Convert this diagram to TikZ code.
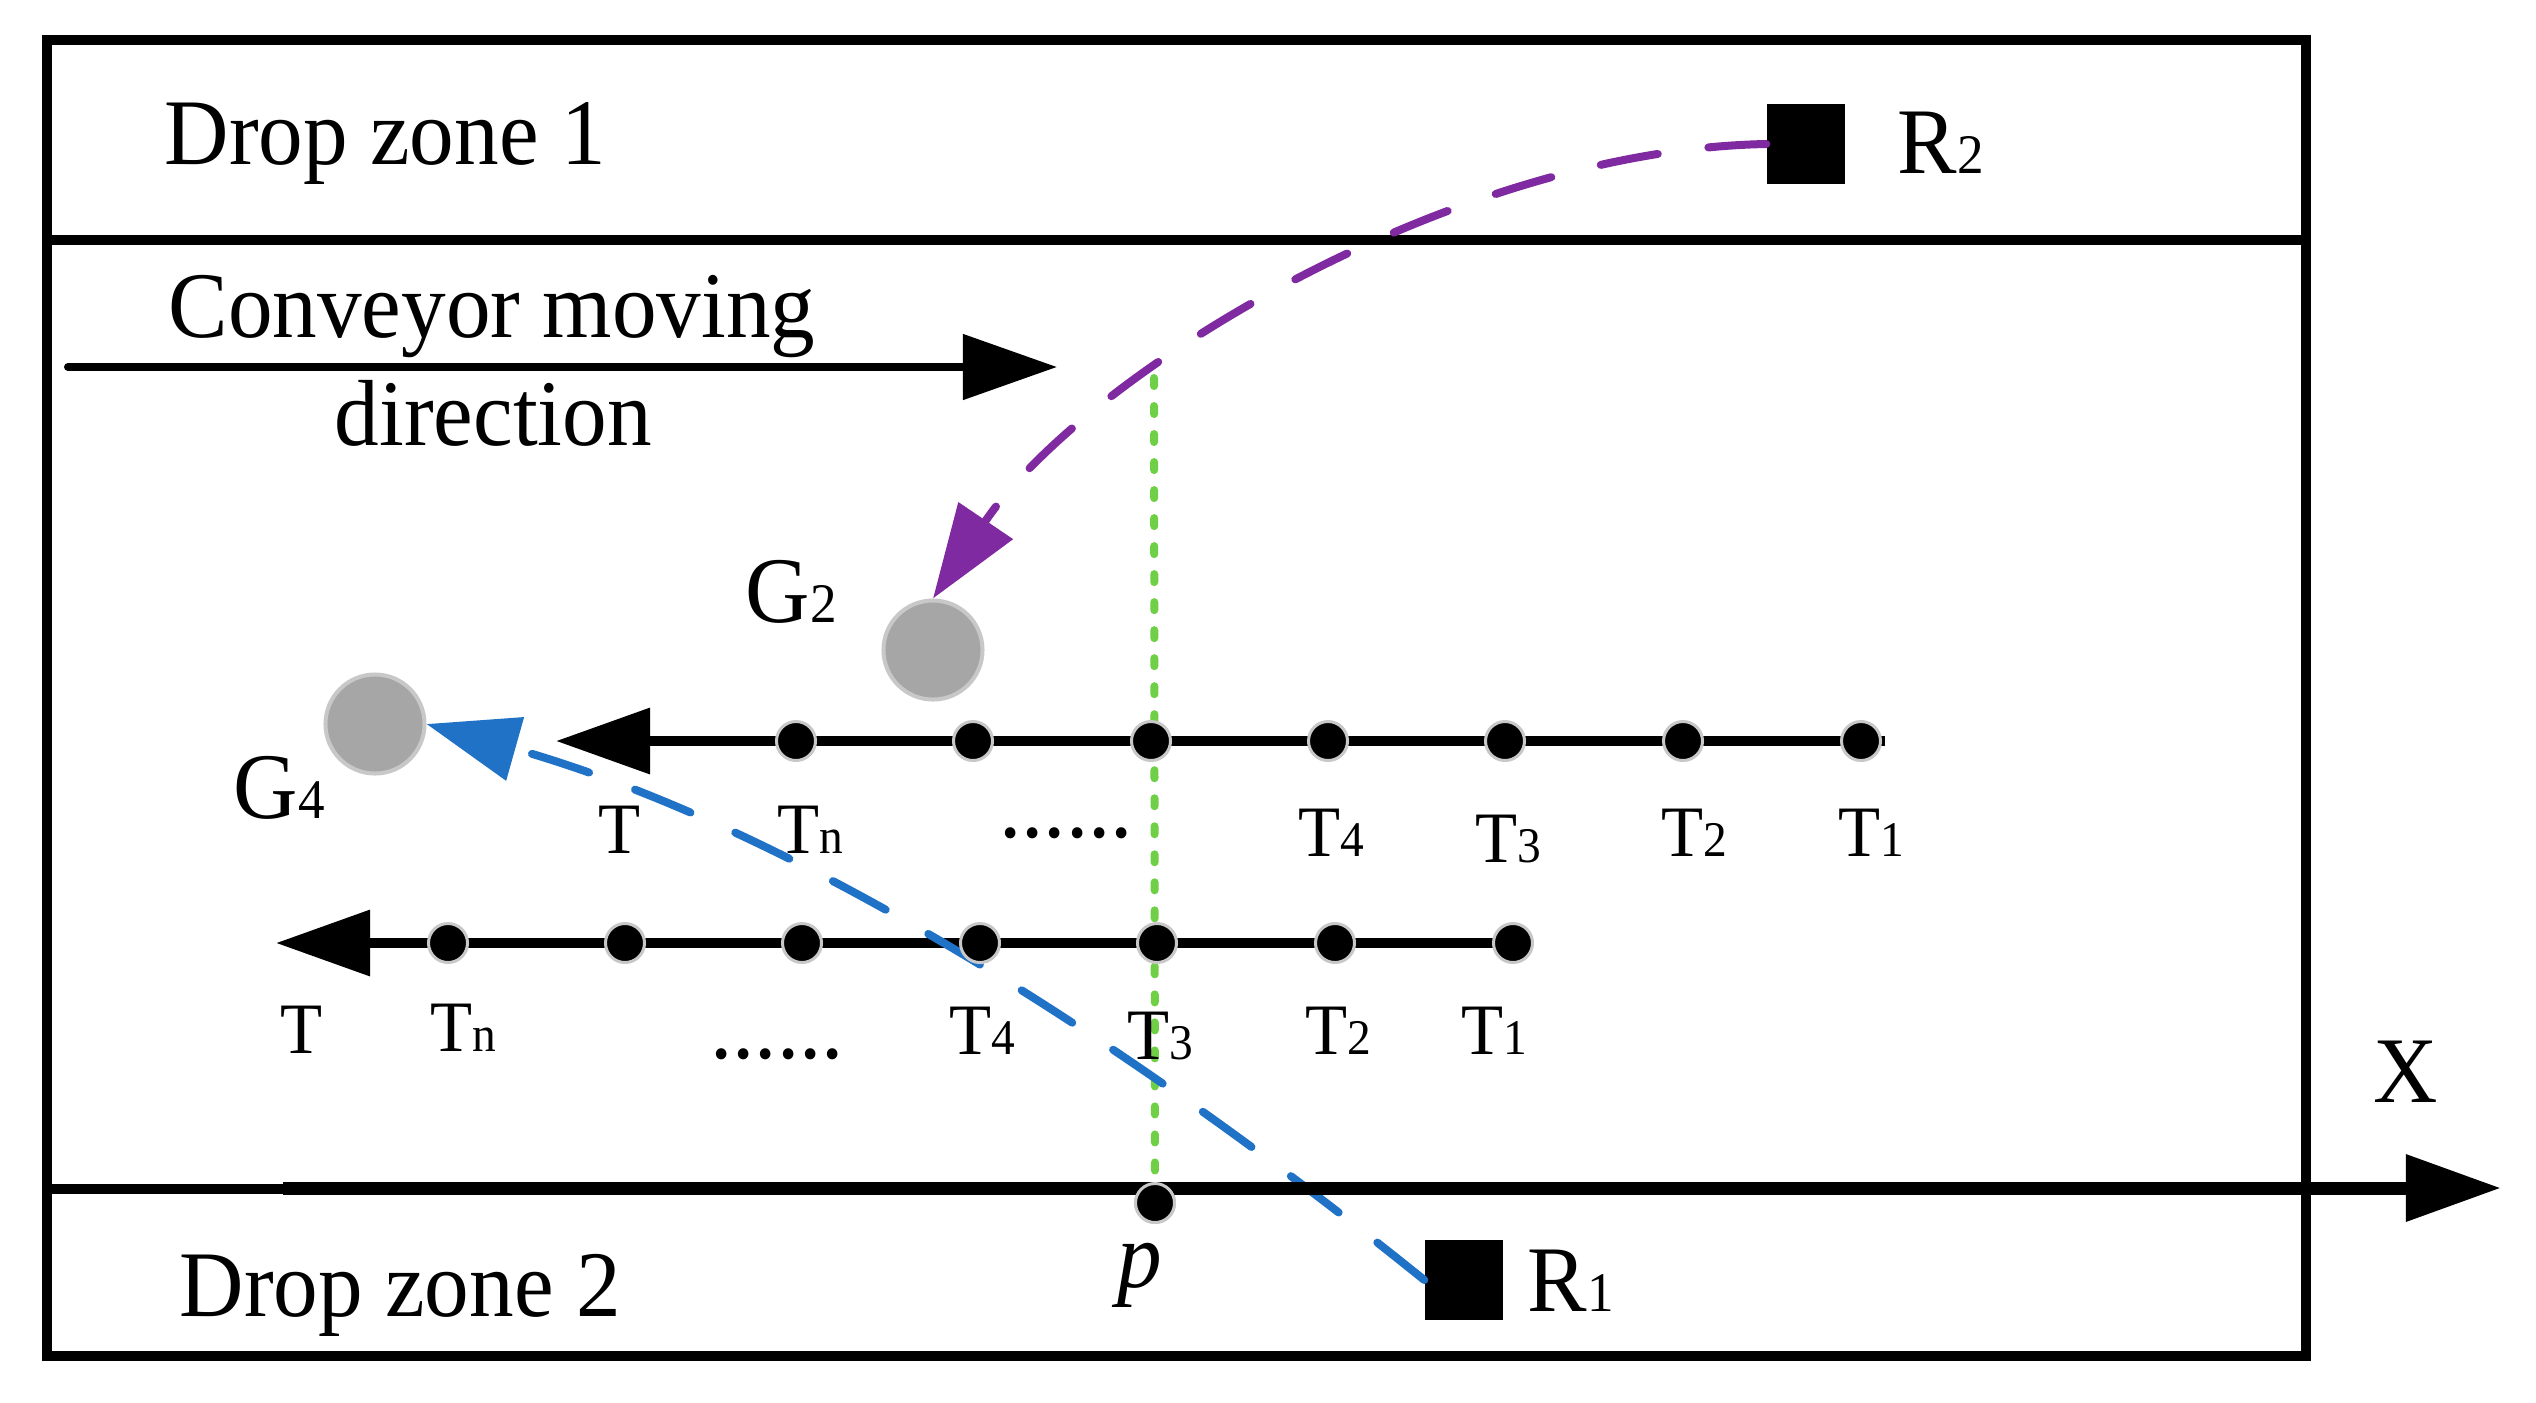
\documentclass[tikz,border=0pt]{standalone}
\usepackage{fontspec}
\setmainfont{Liberation Serif}[FakeStretch=0.95]
\usetikzlibrary{arrows.meta}
\definecolor{purp}{RGB}{127,42,160}
\definecolor{blu}{RGB}{32,114,198}
\definecolor{grn}{RGB}{111,207,70}
\definecolor{gfill}{RGB}{166,166,166}
\definecolor{gedge}{RGB}{200,200,200}
\newcommand{\mybig}{\fontsize{26.7pt}{30pt}\selectfont}
\newcommand{\mylab}{\fontsize{20.6pt}{24pt}\selectfont}
\newcommand{\mybsub}[1]{{\fontsize{15.9pt}{18pt}\selectfont #1}}
\newcommand{\mylsub}[1]{{\fontsize{14.2pt}{16pt}\selectfont #1}}
\begin{document}
\begin{tikzpicture}[x=0.01cm,y=-0.01cm,
  framel/.style={line width=0.1cm},
  rowline/.style={line width=0.1cm,-{Triangle[length=0.94cm,width=0.64cm]}},
  tdot/.style={circle,fill=black,draw=gedge,line width=0.03cm,minimum size=0.39cm,inner sep=0pt},
  ball/.style={circle,fill=gfill,draw=gedge,line width=0.04cm,minimum size=0.99cm,inner sep=0pt},
  robot/.style={rectangle,fill=black,minimum width=0.78cm,minimum height=0.80cm,inner sep=0pt},
  txt/.style={inner sep=0pt,font=\mybig},
  tlab/.style={inner sep=0pt,font=\mylab,anchor=base},
  purpath/.style={purp,line width=0.08cm,line cap=round,dash pattern=on 0.58cm off 0.51cm,-{Triangle[length=0.94cm,width=0.64cm]}},
  blupath/.style={blu,line width=0.08cm,line cap=round,dash pattern=on 0.60cm off 0.49cm,-{Triangle[length=0.92cm,width=0.64cm]}},
  grnpath/.style={grn,line width=0.08cm,line cap=round,dash pattern=on 0.08cm off 0.20cm}
]
\useasboundingbox (0,0) rectangle (2536,1402);

% frame
\draw[framel] (47,40) rectangle (2306,1356);
\draw[framel] (47,240) -- (2306,240);
\draw[framel] (47,1189) -- (2306,1189);

% coordinates
\coordinate (cstart) at (68,367);
\coordinate (ctip) at (1057,367);
\coordinate (r1e) at (1885,741);
\coordinate (r1t) at (556,741);
\coordinate (r2e) at (1533,943);
\coordinate (r2t) at (276,943);
\coordinate (axs) at (283,1188);
\coordinate (axt) at (2501,1188);
\coordinate (gtop) at (1154,378);

% nodes (positions)
\node[robot] (R2) at (1806,144) {};
\node[robot] (R1) at (1464,1280) {};
\node[ball] (G2) at (933,650) {};
\node[ball] (G4) at (375,724) {};
\node[tdot] (pdot) at (1155,1203) {};

% green dotted vertical
\draw[grnpath] (gtop) -- (pdot);

% conveyor direction arrow
\draw[line width=0.08cm,line cap=round,-{Triangle[length=0.94cm,width=0.64cm]}] (cstart) -- (ctip);

% rows
\draw[rowline] (r1e) -- (r1t);
\draw[rowline] (r2e) -- (r2t);

% dashed trajectories
\draw[blupath] (R1.west) .. controls +(-296,-239) and +(366,103) .. (G4.east);
\draw[purpath] (R2.west) .. controls (1450,150) and (1085,374) .. (G2.north);

% axis
\draw[line width=0.13cm,-{Triangle[length=0.95cm,width=0.64cm]}] (axs) -- (axt);

% dots row 1
\foreach \i/\x in {n/796,a/973,b/1151,d4/1328,d3/1505,d2/1683,d1/1861}
  \node[tdot] (u\i) at (\x,741) {};
% dots row 2
\foreach \i/\x in {n/448,a/625,b/802,d4/980,d3/1157,d2/1335,d1/1513}
  \node[tdot] (l\i) at (\x,943) {};
\node[tdot] at (pdot) {};

% texts
\node[txt,anchor=base west] (dz1) at (164,164) {Drop zone 1};
\node[txt,anchor=base west] (cv1) at (168,337) {Conveyor moving};
\node[txt,anchor=base west] (cv2) at (334,445) {direction};
\node[txt,anchor=base west] (dz2) at (179,1316) {Drop zone 2};
\node[txt,anchor=base west] (r2l) at (1897,173) {R\mybsub{2}};
\node[txt,anchor=base west] (r1l) at (1527,1311) {R\mybsub{1}};
\node[txt,anchor=base west] (g2l) at (745,622) {G\mybsub{2}};
\node[txt,anchor=base west] (g4l) at (233,818) {G\mybsub{4}};
\node[txt,anchor=base] (xl) at (2406,1102) {X};
\node[txt,anchor=base] (pl) at (1140,1287) {\itshape p};

% row 1 labels
\node[tlab] (ut) at (620,853) {T};
\node[tlab] (utn) at (810,853) {T\mylsub{n}};
\node[txt,anchor=base] (udots) at (1066,837) {......};
\node[tlab] (ut4) at (1331,856) {T\mylsub{4}};
\node[tlab] (ut3) at (1508,862) {T\mylsub{3}};
\node[tlab] (ut2) at (1694,856) {T\mylsub{2}};
\node[tlab] (ut1) at (1871,856) {T\mylsub{1}};
% row 2 labels
\node[tlab] (lt) at (302,1053) {T};
\node[tlab] (ltn) at (463,1051) {T\mylsub{n}};
\node[txt,anchor=base] (ldots) at (777,1058) {......};
\node[tlab] (lt4) at (982,1054) {T\mylsub{4}};
\node[tlab] (lt3) at (1160,1059) {T\mylsub{3}};
\node[tlab] (lt2) at (1338,1054) {T\mylsub{2}};
\node[tlab] (lt1) at (1494,1054) {T\mylsub{1}};
\end{tikzpicture}
\end{document}
